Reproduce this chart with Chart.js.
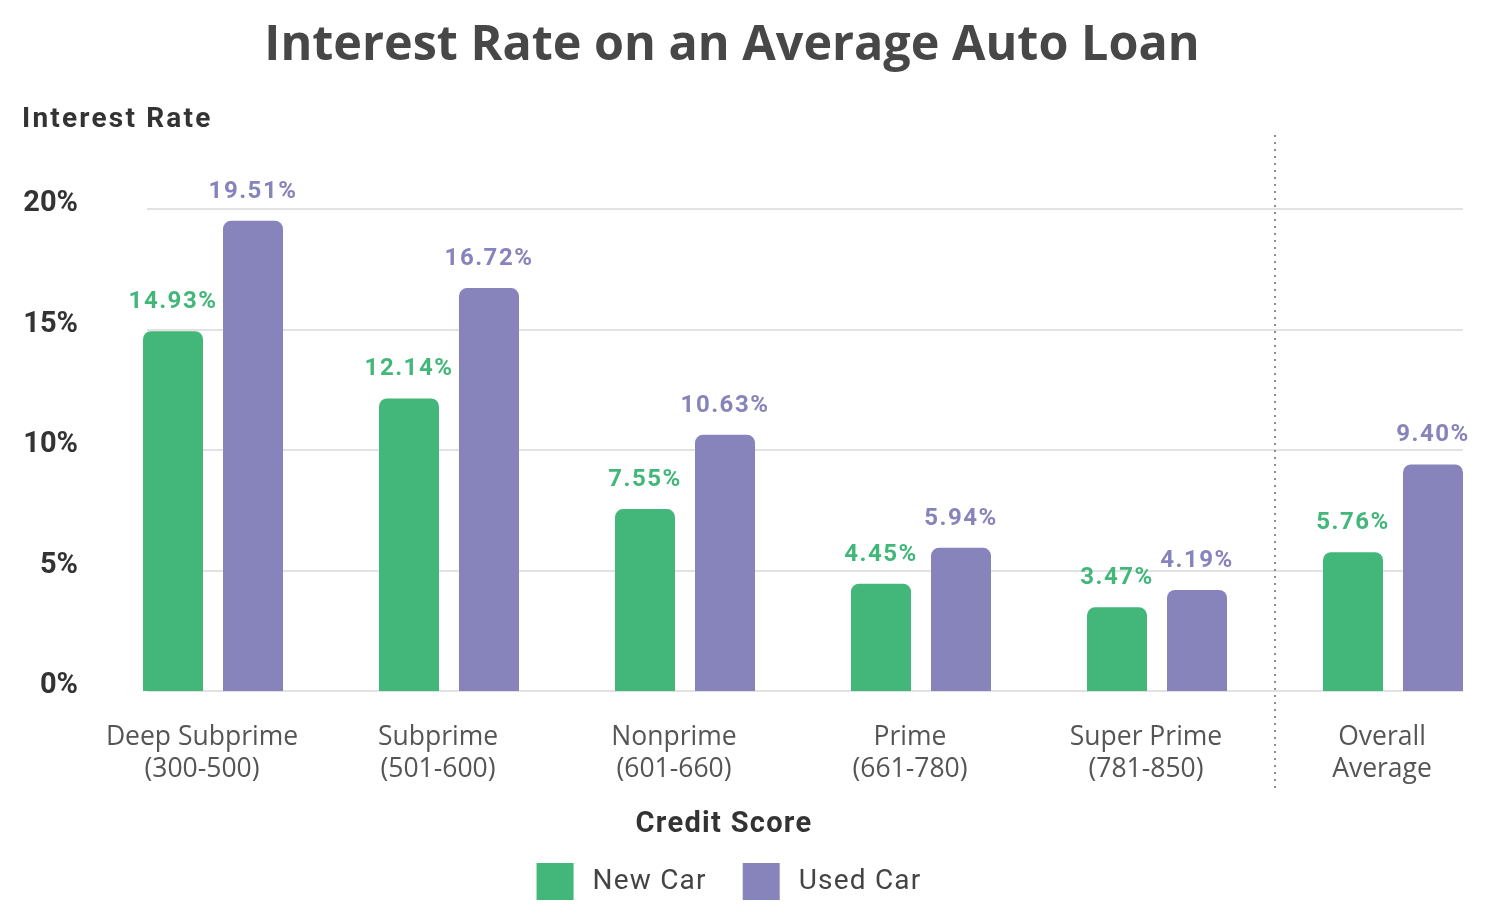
<!DOCTYPE html>
<html>
<head>
<meta charset="utf-8">
<title>Interest Rate on an Average Auto Loan</title>
<script src="https://cdn.jsdelivr.net/npm/chart.js@4.4.1/dist/chart.umd.min.js"></script>
<style>
  html, body { margin: 0; padding: 0; background: #fff; overflow: hidden; }
  #wrap { width: 1491px; height: 919px; overflow: hidden; }
  #box { width: 1511px; height: 919px; }
</style>
</head>
<body>
<div id="wrap"><div id="box"><canvas id="myChart"></canvas></div></div>
<script>
const categories = [
  ["Deep Subprime", "(300-500)"],
  ["Subprime", "(501-600)"],
  ["Nonprime", "(601-660)"],
  ["Prime", "(661-780)"],
  ["Super Prime", "(781-850)"],
  ["Overall", "Average"]
];
const newCar = [14.93, 12.14, 7.55, 4.45, 3.47, 5.76];
const usedCar = [19.51, 16.72, 10.63, 5.94, 4.19, 9.40];
const yTicks = [0, 5, 10, 15, 20];

const green = "#43b77a";
const purple = "#8783bb";
const centerX = 732; // the picture's headings sit a little left of the canvas centre

// gridlines, the dotted divider, value labels and the headings/legend
const extras = {
  id: "extras",
  beforeDatasetsDraw(chart) {
    const { ctx, scales: { x, y } } = chart;
    const first = chart.getDatasetMeta(0).data[0];
    const last = chart.getDatasetMeta(1).data[categories.length - 1];
    const left = first.x - first.width / 2 + 4;
    const right = last.x + last.width / 2;
    ctx.save();
    ctx.strokeStyle = "#e2e2e2";
    ctx.lineWidth = 2;
    yTicks.forEach(v => {
      const py = Math.round(y.getPixelForValue(v));
      ctx.beginPath();
      ctx.moveTo(left, py);
      ctx.lineTo(right, py);
      ctx.stroke();
    });
    // divider between the credit tiers and the overall average
    const dx = (x.getPixelForValue(4) + x.getPixelForValue(5)) / 2;
    ctx.strokeStyle = "#8c8c8c";
    ctx.setLineDash([2, 5]);
    ctx.beginPath();
    ctx.moveTo(dx, 135);
    ctx.lineTo(dx, 790);
    ctx.stroke();
    ctx.restore();
  },
  afterDatasetsDraw(chart) {
    const { ctx } = chart;
    ctx.save();
    ctx.font = "bold 24px Roboto";
    ctx.letterSpacing = "1.5px";
    ctx.textAlign = "center";
    ctx.textBaseline = "middle";
    chart.data.datasets.forEach((ds, i) => {
      ctx.fillStyle = ds.backgroundColor;
      chart.getDatasetMeta(i).data.forEach((bar, j) => {
        ctx.fillText(ds.data[j].toFixed(2) + "%", bar.x, bar.y - 29);
      });
    });
    ctx.restore();
  },
  afterDraw(chart) {
    const { ctx } = chart;
    ctx.save();
    ctx.textBaseline = "middle";

    ctx.fillStyle = "#474747";
    ctx.textAlign = "center";
    ctx.font = "bold 48.5px 'Open Sans'";
    ctx.fillText("Interest Rate on an Average Auto Loan", centerX, 46);

    ctx.fillStyle = "#333";
    ctx.textAlign = "left";
    ctx.font = "bold 28px Roboto";
    ctx.letterSpacing = "2.2px";
    ctx.fillText("Interest Rate", 22, 120);

    ctx.textAlign = "center";
    ctx.font = "bold 29px Roboto";
    ctx.letterSpacing = "1.3px";
    ctx.fillText("Credit Score", 724, 825);

    // legend
    ctx.font = "28px Roboto";
    ctx.letterSpacing = "1.2px";
    const boxSize = 37, gap = 19, between = 36;
    const items = chart.data.datasets.map(ds => ({
      label: ds.label, color: ds.backgroundColor, w: ctx.measureText(ds.label).width
    }));
    const total = items.reduce((s, it) => s + boxSize + gap + it.w, 0) + between * (items.length - 1);
    let lx = 729 - total / 2;
    ctx.textAlign = "left";
    items.forEach(it => {
      ctx.fillStyle = it.color;
      ctx.fillRect(lx, 863, boxSize, boxSize);
      ctx.fillStyle = "#444";
      ctx.fillText(it.label, lx + boxSize + gap, 882);
      lx += boxSize + gap + it.w + between;
    });
    ctx.restore();
  }
};

const ctxBar = document.getElementById("myChart").getContext("2d");

new Chart(ctxBar, {
  type: "bar",
  data: {
    labels: categories,
    datasets: [
      {
        label: "New Car",
        data: newCar,
        backgroundColor: green,
        borderRadius: { topLeft: 8, topRight: 8 },
        borderSkipped: "bottom"
      },
      {
        label: "Used Car",
        data: usedCar,
        backgroundColor: purple,
        borderRadius: { topLeft: 8, topRight: 8 },
        borderSkipped: "bottom"
      }
    ]
  },
  options: {
    responsive: true,
    maintainAspectRatio: false,
    animation: false,
    devicePixelRatio: 1,
    barPercentage: 0.75,
    categoryPercentage: 0.678,
    layout: {
      padding: { top: 209, left: 18, right: 0, bottom: 0 }
    },
    plugins: {
      legend: { display: false },
      title: { display: false },
      tooltip: { enabled: false }
    },
    scales: {
      x: {
        grid: { display: false },
        border: { display: false },
        ticks: {
          color: "#555",
          font: { family: "Open Sans", size: 26.5, lineHeight: 1.22 },
          padding: 22,
          labelOffset: -11,
          maxRotation: 0,
          autoSkip: false
        },
        afterFit(scale) { scale.height = 228; }
      },
      y: {
        min: 0,
        max: 20,
        grid: { display: false, drawTicks: false },
        border: { display: false },
        afterBuildTicks(scale) { scale.ticks = yTicks.map(v => ({ value: v })); },
        ticks: {
          color: "#333",
          font: { family: "Roboto", size: 29, weight: "bold" },
          padding: 17,
          labelOffset: -5,
          callback: v => v + "%"
        },
        afterFit(scale) { scale.width = 77; }
      }
    }
  },
  plugins: [extras]
});
</script>
</body>
</html>
